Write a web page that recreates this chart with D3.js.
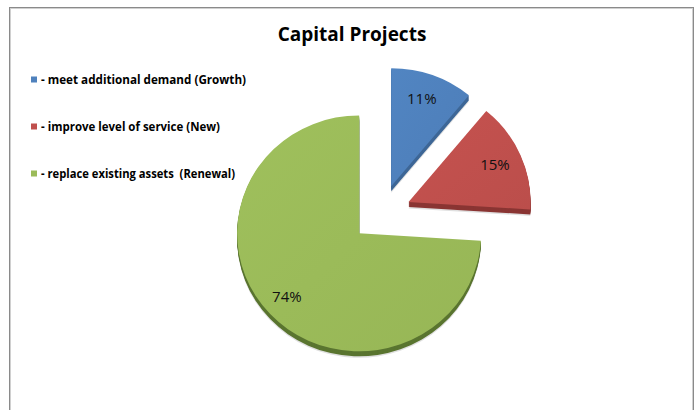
<!DOCTYPE html>
<html>
<head>
<meta charset="utf-8">
<script src="https://cdn.jsdelivr.net/npm/d3@7/dist/d3.min.js"></script>
<style>
  html, body { margin: 0; padding: 0; background: #fff; }
  svg { display: block; }
</style>
</head>
<body>
<svg id="chart" width="697" height="410"></svg>
<script>
// Chart data
const categories = [
  "- meet additional demand (Growth)",
  "- improve level of service (New)",
  "- replace existing assets\u00a0\u00a0(Renewal)"
];
const shares = [11, 15, 74];
const labels = ["11%", "15%", "74%"];
const title = "Capital Projects";

// Look
const faceColors = ["#4F81BD", "#C0504D", "#9BBB59"];
const sideColors = ["#3D6696", "#8A3533", "#5A7530"];
const legendWidths = [205, 179, 194];

const svg = d3.select("#chart");

// Frame
svg.append("rect")
  .attr("x", 9.5).attr("y", 7.5)
  .attr("width", 684).attr("height", 420)
  .attr("fill", "#fff")
  .attr("stroke", "#8a8a8a").attr("stroke-width", 1);
svg.append("rect")
  .attr("x", 10.5).attr("y", 8.5)
  .attr("width", 682).attr("height", 420)
  .attr("fill", "none")
  .attr("stroke", "#d0d0d0").attr("stroke-width", 1);

// Title
svg.append("text")
  .attr("x", 352).attr("y", 41)
  .attr("text-anchor", "middle")
  .attr("font-family", "'Open Sans', sans-serif")
  .attr("font-weight", 700)
  .attr("font-size", 19)
  .attr("fill", "#000")
  .text(title);

// Legend
const legend = svg.append("g");
const legendY = d3.scalePoint().domain(categories).range([83.5, 177.5]);
categories.forEach((c, i) => {
  const y = legendY(c);
  legend.append("rect")
    .attr("x", 31).attr("y", y - 7)
    .attr("width", 6).attr("height", 6)
    .attr("fill", faceColors[i]);
  legend.append("text")
    .attr("x", 41).attr("y", y)
    .attr("font-family", "'Open Sans', sans-serif")
    .attr("font-weight", 700)
    .attr("font-size", 12)
    .attr("textLength", legendWidths[i])
    .attr("lengthAdjust", "spacingAndGlyphs")
    .attr("fill", "#000")
    .text(c);
});

// Pie (tilted slightly, every slice pulled out from the centre)
const cx = 381, cy = 213.5;
const rx = 122, tilt = 0.967;
const explode = 30;
const depth = 5;

const pie = d3.pie().sort(null).value(d => d)(shares);
const arc = d3.arc().innerRadius(0).outerRadius(rx);
const labelArc = d3.arc().innerRadius(rx * 0.79).outerRadius(rx * 0.79);

const defs = svg.append("defs");
pie.forEach((p, i) => {
  const g = defs.append("linearGradient")
    .attr("id", "face" + i)
    .attr("x1", "0").attr("y1", "0").attr("x2", "1").attr("y2", "1");
  const base = d3.color(faceColors[i]);
  g.append("stop").attr("offset", "0%").attr("stop-color", base.brighter(0.08));
  g.append("stop").attr("offset", "100%").attr("stop-color", base.darker(0.08));
});

const slices = svg.append("g");
pie.forEach((p, i) => {
  const mid = (p.startAngle + p.endAngle) / 2;
  const ox = cx + explode * Math.sin(mid);
  const oy = cy - explode * Math.cos(mid) * tilt;
  const s = slices.append("g");
  // soft shadow under the rim
  s.append("path")
    .attr("d", arc(p))
    .attr("transform", `translate(${ox},${oy + depth + 1.5}) scale(1,${tilt})`)
    .attr("fill", "#000").attr("opacity", 0.12);
  // side wall
  for (let d = depth; d >= 1; d--) {
    s.append("path")
      .attr("d", arc(p))
      .attr("transform", `translate(${ox},${oy + d}) scale(1,${tilt})`)
      .attr("fill", sideColors[i]);
  }
  // top face
  s.append("path")
    .attr("d", arc(p))
    .attr("transform", `translate(${ox},${oy}) scale(1,${tilt})`)
    .attr("fill", `url(#face${i})`);
  // value label
  const [lx, ly] = labelArc.centroid(p);
  svg.append("text")
    .attr("x", ox + lx - 2).attr("y", oy + ly * tilt + 5)
    .attr("text-anchor", "middle")
    .attr("font-family", "'Open Sans', sans-serif")
    .attr("font-size", 15)
    .attr("fill", "#111")
    .text(labels[i]);
});
</script>
</body>
</html>
